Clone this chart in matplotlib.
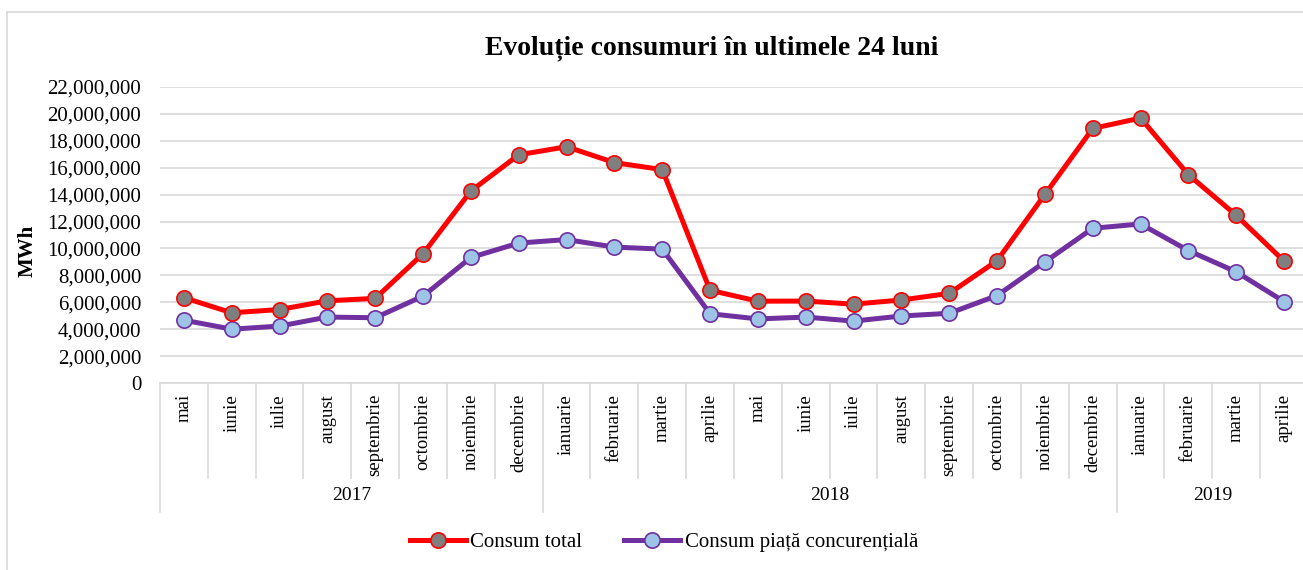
import matplotlib.pyplot as plt
import numpy as np
from matplotlib.lines import Line2D

plt.rcParams['font.family'] = ['Liberation Serif', 'DejaVu Serif']

months = ["mai", "iunie", "iulie", "august", "septembrie", "octombrie", "noiembrie", "decembrie",
          "ianuarie", "februarie", "martie", "aprilie", "mai", "iunie", "iulie", "august",
          "septembrie", "octombrie", "noiembrie", "decembrie", "ianuarie", "februarie", "martie", "aprilie"]
years = ["2017", "2018", "2019"]
year_bounds = [0, 8, 20, 24]  # month index where each year starts / ends

consum_total = [6.34e6, 5.22e6, 5.46e6, 6.11e6, 6.29e6, 9.61e6, 14.27e6, 16.96e6,
                17.56e6, 16.38e6, 15.86e6, 6.89e6, 6.08e6, 6.09e6, 5.86e6, 6.17e6,
                6.66e6, 9.09e6, 14.02e6, 18.92e6, 19.69e6, 15.48e6, 12.46e6, 9.06e6]
consum_piata = [4.67e6, 4.00e6, 4.23e6, 4.90e6, 4.85e6, 6.46e6, 9.33e6, 10.40e6,
                10.66e6, 10.10e6, 9.95e6, 5.15e6, 4.76e6, 4.90e6, 4.60e6, 4.98e6,
                5.18e6, 6.50e6, 9.00e6, 11.50e6, 11.82e6, 9.84e6, 8.26e6, 6.05e6]

W, H = 1303, 570
fig = plt.figure(figsize=(W / 100, H / 100), dpi=100)
# plot area in pixels: x 160..1308, y 87..383
ax = fig.add_axes([160 / W, (H - 383) / H, 1148 / W, 296 / H])

grid_c = "#d9d9d9"
x = np.arange(len(months))

ax.plot(x, consum_total, color="#ff0000", lw=3.6, marker="o", ms=11,
        mfc="#7f7f7f", mec="#ff0000", mew=1.2, zorder=4, label="Consum total")
ax.plot(x, consum_piata, color="#7030a0", lw=3.6, marker="o", ms=11,
        mfc="#9dc3e6", mec="#7030a0", mew=1.2, zorder=3, label="Consum piață concurențială")

ax.set_xlim(-0.5, 23.5)
ax.set_ylim(0, 22e6)
ax.set_yticks(np.arange(0, 22e6 + 1, 2e6))
ax.yaxis.set_major_formatter(plt.FuncFormatter(lambda v, p: f"{v:,.0f}"))
ax.tick_params(axis="y", length=0, pad=13.5, labelsize=15)
ax.set_xticks([])
ax.grid(axis="y", color=grid_c, lw=1.2)
for s in ["top", "right", "left"]:
    ax.spines[s].set_visible(False)
ax.spines["bottom"].set_color(grid_c)
ax.spines["bottom"].set_linewidth(1.2)

tr = ax.get_xaxis_transform()
month_bot = -(478 - 383) / 296
year_bot = -(512 - 383) / 296
for i in range(len(months) + 1):
    low = year_bot if i in year_bounds else month_bot
    ax.plot([i - 0.5, i - 0.5], [0, low], color=grid_c, lw=1.2, transform=tr, clip_on=False)
for i, m in enumerate(months):
    ax.text(i, -(394 - 383) / 296, m, rotation=90, ha="center", va="top",
            fontsize=13.5, transform=tr)
for k, yr in enumerate(years):
    cx = (year_bounds[k] + year_bounds[k + 1]) / 2 - 0.5
    ax.text(cx, -(495 - 383) / 296, yr, ha="center", va="center", fontsize=14, transform=tr)

fig.text(28 / W, 1 - 251 / H, "MWh", rotation=90, ha="center", va="center",
         fontsize=15, fontweight="bold")
fig.text(712 / W, 1 - 48 / H, "Evoluție consumuri în ultimele 24 luni", ha="center",
         va="center", fontsize=20, fontweight="bold")

fig.legend(loc="center", bbox_to_anchor=(664 / W, 1 - 542 / H), ncol=2, frameon=False,
           fontsize=15, handlelength=2.7, handletextpad=0.2, columnspacing=2.0)

# outer chart border
fig.add_artist(Line2D([7 / W, 7 / W], [0, 1 - 12 / H], color=grid_c, lw=1.2))
fig.add_artist(Line2D([7 / W, 1], [1 - 12 / H, 1 - 12 / H], color=grid_c, lw=1.2))

fig.savefig("out.png", dpi=100)
